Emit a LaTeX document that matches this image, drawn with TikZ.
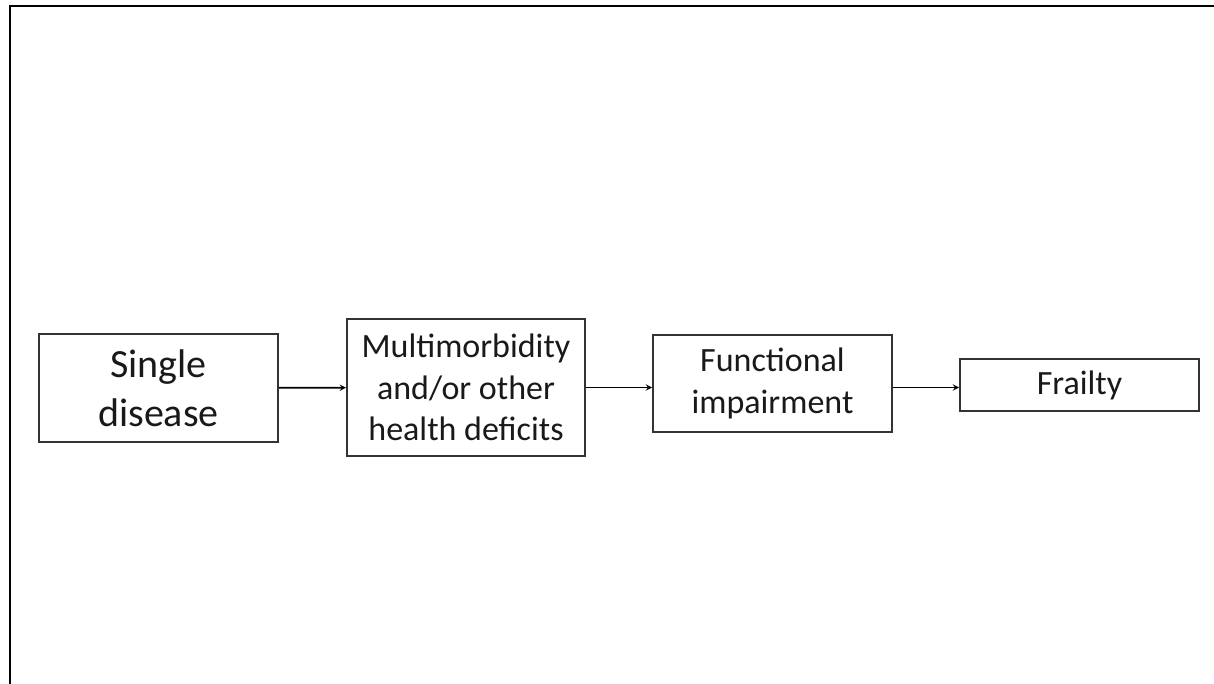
\documentclass[tikz,border=0pt]{standalone}
\usepackage{fontspec}
\setmainfont{Carlito}
\usepackage{tikz}
\usetikzlibrary{shapes,positioning}
\tikzset{rec/.style={rectangle,draw=black!80,line width=1.8pt,align=center,inner sep=0pt,text=black!90,font=\fontsize{34}{41.5}\selectfont}}
\tikzset{big/.style={font=\fontsize{40}{49}\selectfont}}

\begin{document}
\begin{tikzpicture}[>=stealth,x=1pt,y=1pt]
    \useasboundingbox (0,0) rectangle (1214,684);
    \clip (0,0) rectangle (1214,684);
    \draw [line width=2.5pt] (10,-5) -- (10,678) -- (1225,678);

    \node[rec,big,minimum width=239,minimum height=108] (b1)at (158.5,296) {Single\\disease};
    \node[rec,minimum width=238,minimum height=137] (b2)at (466,296.5) {Multimorbidity\\and/or other\\health deficits};
    \node[rec,minimum width=239,minimum height=97] (b3)at (772.5,300.5) {Functional\\impairment};
    \node[rec,minimum width=239,minimum height=52] (b4)at (1079.5,299) {Frailty};

    \draw [->,line width=1.8pt] (b1) to (b2);
    \draw [->,line width=1.8pt] (b2) to (b2 -| b3.west);
    \draw [->,line width=1.8pt] (b2 -| b3.east) to (b2 -| b4.west);
\end{tikzpicture}
\end{document}
